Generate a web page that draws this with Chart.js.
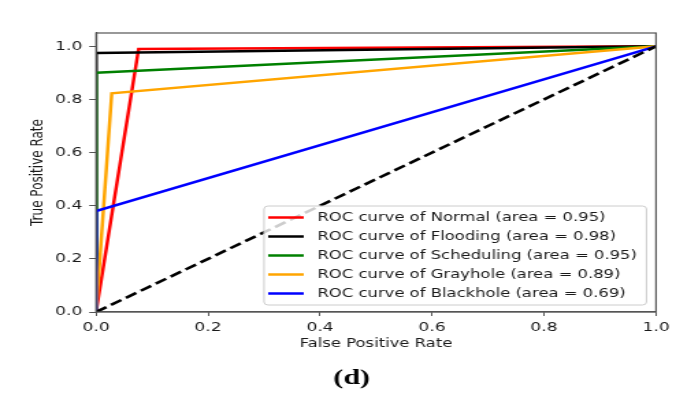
<!DOCTYPE html>
<html>
<head>
<meta charset="utf-8">
<script src="https://cdn.jsdelivr.net/npm/chart.js@4.4.1/dist/chart.umd.min.js"></script>
<style>
  html, body { margin: 0; padding: 0; background: #fff; overflow: hidden; }
  /* the source figure is stretched sideways, so draw narrow and widen */
  #wrap { width: 494px; height: 400px; transform: scaleX(1.3684); transform-origin: 0 0; }
</style>
</head>
<body>
<div id="wrap"><canvas id="roc" width="494" height="400"></canvas></div>
<script>
'use strict';

// class names and AUC values as printed in the legend
var classNames = ['Normal', 'Flooding', 'Scheduling', 'Grayhole', 'Blackhole'];
var classAreas = ['0.95', '0.98', '0.95', '0.89', '0.69'];
var classColors = ['#ff0000', '#000000', '#008000', '#ffa500', '#0000ff'];

// ROC points (fpr / tpr)
var normalFpr = [0, 0.076, 1];
var normalTpr = [0, 0.99, 1];
var floodingFpr = [0, 0, 1];
var floodingTpr = [0, 0.975, 1];
var schedulingFpr = [0, 0, 1];
var schedulingTpr = [0, 0.90, 1];
var grayholeFpr = [0, 0.028, 1];
var grayholeTpr = [0, 0.823, 1];
var blackholeFpr = [0, 0, 1];
var blackholeTpr = [0, 0.38, 1];
var chanceFpr = [0, 1];
var chanceTpr = [0, 1];

var xTickValues = [0, 0.2, 0.4, 0.6, 0.8, 1.0];
var yTickValues = [0, 0.2, 0.4, 0.6, 0.8, 1.0];

var fprList = [normalFpr, floodingFpr, schedulingFpr, grayholeFpr, blackholeFpr];
var tprList = [normalTpr, floodingTpr, schedulingTpr, grayholeTpr, blackholeTpr];

var textColor = '#1a1a1a';
var spineColor = '#555';
var fontFamily = '"DejaVu Sans", sans-serif';

function toPoints(xs, ys) {
  return xs.map(function(x, i) { return {x: x, y: ys[i]}; });
}

var datasets = classNames.map(function(name, i) {
  return {
    label: 'ROC curve of ' + name + ' (area = ' + classAreas[i] + ')',
    data: toPoints(fprList[i], tprList[i]),
    borderColor: classColors[i],
    backgroundColor: classColors[i],
    borderWidth: 2.5,
    showLine: true,
    pointRadius: 0,
    tension: 0,
    order: -i
  };
});
datasets.push({
  label: 'chance',
  data: toPoints(chanceFpr, chanceTpr),
  borderColor: '#000',
  borderWidth: 2.6,
  borderDash: [9, 4],
  showLine: true,
  pointRadius: 0,
  order: -10
});

// box round the plot, like matplotlib spines
var framePlugin = {
  id: 'frame',
  afterDatasetsDraw: function(chart) {
    var a = chart.chartArea, ctx = chart.ctx;
    ctx.save();
    ctx.strokeStyle = spineColor;
    ctx.lineWidth = 1.2;
    ctx.strokeRect(a.left, a.top, a.right - a.left, a.bottom - a.top);
    ctx.restore();
  }
};

// legend sitting inside the plot, lower right
var innerLegend = {
  id: 'innerLegend',
  afterDraw: function(chart) {
    var a = chart.chartArea, ctx = chart.ctx;
    var items = chart.data.datasets.slice(0, classNames.length);
    ctx.save();
    ctx.font = '12px ' + fontFamily;
    var maxW = 0;
    items.forEach(function(d) { maxW = Math.max(maxW, ctx.measureText(d.label).width); });
    var rowH = 19;
    var w = 3 + 26 + 10 + maxW + 7;
    var h = 99;
    var right = a.right - 7, bottom = a.bottom - 7;
    var left = right - w, top = bottom - h;
    ctx.beginPath();
    ctx.roundRect(left, top, w, h, 3);
    ctx.fillStyle = 'rgba(255,255,255,0.8)';
    ctx.fill();
    ctx.strokeStyle = '#cccccc';
    ctx.lineWidth = 1;
    ctx.stroke();
    ctx.textBaseline = 'middle';
    ctx.textAlign = 'left';
    items.forEach(function(d, i) {
      var y = top + 11.5 + i * rowH;
      ctx.beginPath();
      ctx.strokeStyle = d.borderColor;
      ctx.lineWidth = 2.5;
      ctx.moveTo(left + 3, y);
      ctx.lineTo(left + 29, y);
      ctx.stroke();
      ctx.fillStyle = textColor;
      ctx.fillText(d.label, left + 39, y + 0.5);
    });
    ctx.restore();
  }
};

var captionPlugin = {
  id: 'caption',
  afterDraw: function(chart) {
    var ctx = chart.ctx;
    ctx.save();
    ctx.font = 'bold 22px "Liberation Serif", serif';
    ctx.fillStyle = '#000';
    ctx.textAlign = 'center';
    ctx.textBaseline = 'middle';
    ctx.fillText('(d)', 257, 378);
    ctx.restore();
  }
};

var tickFont = {family: fontFamily, size: 12.5};

var config = {
  type: 'scatter',
  data: {datasets: datasets},
  options: {
    responsive: false,
    animation: false,
    devicePixelRatio: 1,
    layout: {padding: {left: 0, right: 14.6, top: 33, bottom: 43}},
    plugins: {
      legend: {display: false},
      tooltip: {enabled: false}
    },
    scales: {
      x: {
        type: 'linear',
        min: 0,
        max: 1,
        afterBuildTicks: function(axis) {
          axis.ticks = xTickValues.map(function(v) { return {value: v}; });
        },
        afterFit: function(axis) { axis.height = 45; },
        ticks: {
          color: textColor,
          font: tickFont,
          padding: 4,
          maxRotation: 0,
          callback: function(v) { return Number(v).toFixed(1); }
        },
        grid: {drawOnChartArea: false, drawTicks: true, tickLength: 4, color: spineColor},
        border: {display: true, color: spineColor, width: 1.2},
        title: {
          display: true,
          text: 'False Positive Rate',
          color: textColor,
          font: {family: fontFamily, size: 12},
          padding: {top: 0, bottom: 6}
        }
      },
      y: {
        type: 'linear',
        min: 0,
        max: 1.05,
        afterBuildTicks: function(axis) {
          axis.ticks = yTickValues.map(function(v) { return {value: v}; });
        },
        afterFit: function(axis) { axis.width = 70.2; },
        ticks: {
          color: textColor,
          font: tickFont,
          padding: 5,
          callback: function(v) { return Number(v).toFixed(1); }
        },
        grid: {drawOnChartArea: false, drawTicks: true, tickLength: 5, color: spineColor},
        border: {display: true, color: spineColor, width: 1.2},
        title: {
          display: true,
          text: 'True Positive Rate',
          color: textColor,
          font: {family: fontFamily, size: 12},
          padding: {top: 20.6, bottom: 0}
        }
      }
    }
  },
  plugins: [framePlugin, innerLegend, captionPlugin]
};

window.onload = function() {
  var ctx = document.getElementById('roc').getContext('2d');
  window.rocChart = new Chart(ctx, config);
};
</script>
</body>
</html>
